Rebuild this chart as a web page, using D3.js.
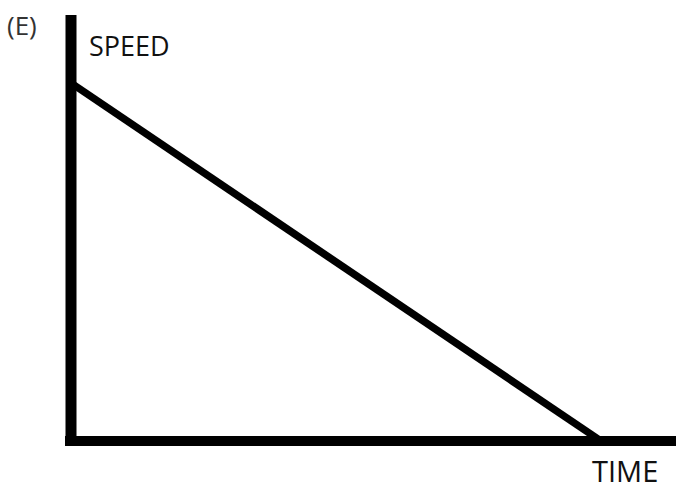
<!DOCTYPE html>
<html><head><meta charset="utf-8">
<script src="https://cdn.jsdelivr.net/npm/d3@7"></script>
<style>html,body{margin:0;padding:0;background:#fff;}svg{display:block;}</style>
</head><body>
<script>
const times = [0, 10];
const speeds = [10, 0];
const labels = {panel: "(E)", y: "SPEED", x: "TIME"};

const W = 676, H = 489;
const svg = d3.select("body").append("svg").attr("width", W).attr("height", H);
const x = d3.scaleLinear().domain([0, 10]).range([71, 601]);
const y = d3.scaleLinear().domain([0, 10]).range([441, 83]);

// axes
svg.append("line").attr("x1", x(0)).attr("x2", x(0)).attr("y1", 15).attr("y2", 446)
  .attr("stroke", "#000").attr("stroke-width", 11);
svg.append("line").attr("x1", 65).attr("x2", W).attr("y1", y(0)).attr("y2", y(0))
  .attr("stroke", "#000").attr("stroke-width", 10);

const line = d3.line().x((d, i) => x(times[i])).y(d => y(d));
svg.append("path").datum(speeds).attr("d", line).attr("fill", "none")
  .attr("stroke", "#000").attr("stroke-width", 7.5);

const font = "'Open Sans', sans-serif";
svg.append("text").attr("x", 7).attr("y", 35).text(labels.panel)
  .attr("font-family", font).attr("font-size", 26).attr("fill", "#333");
svg.append("text").attr("x", 89).attr("y", 56).text(labels.y)
  .attr("font-family", font).attr("font-size", 27).attr("fill", "#111");
svg.append("text").attr("x", 592).attr("y", 482).text(labels.x)
  .attr("font-family", font).attr("font-size", 29).attr("fill", "#111");
</script>
</body></html>
